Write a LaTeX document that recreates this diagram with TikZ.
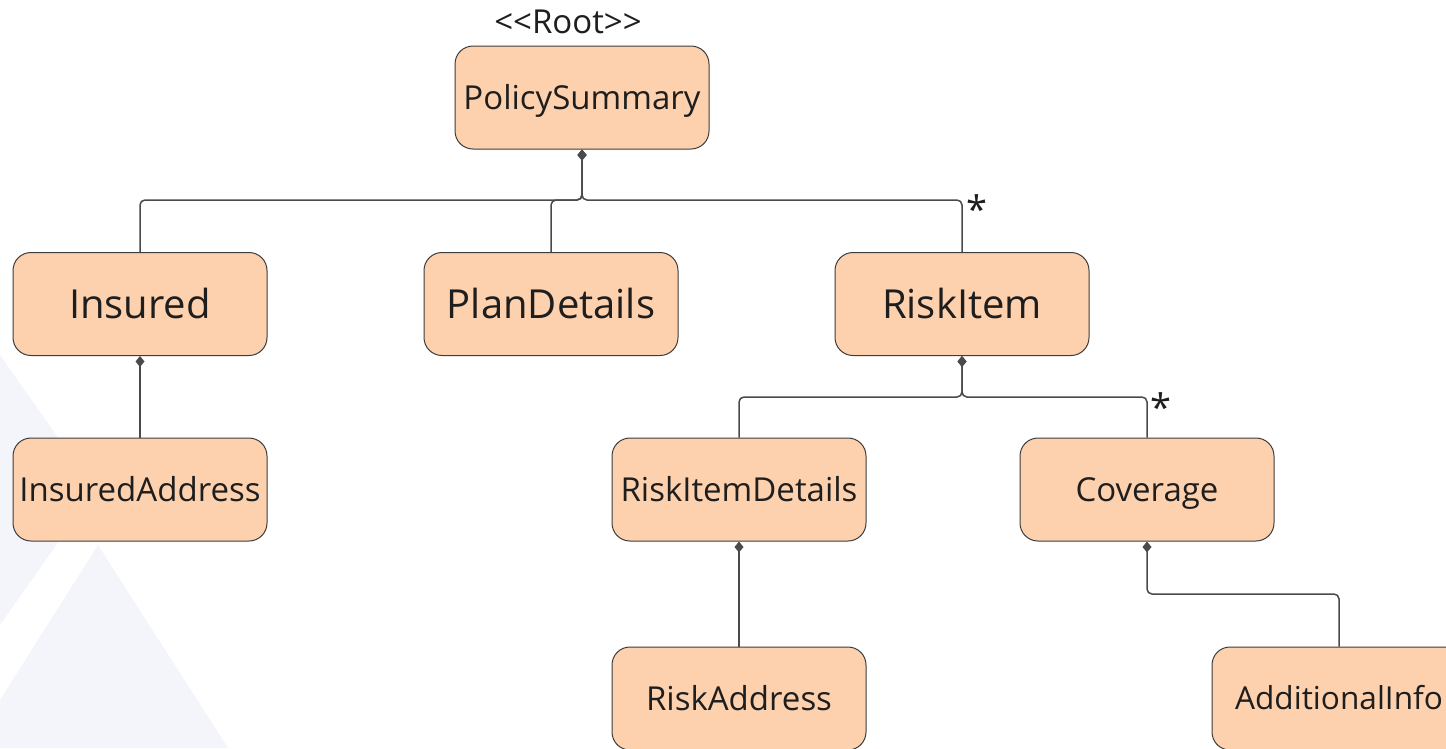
\documentclass[tikz,border=0pt]{standalone}
\usepackage{fontspec}
\setmainfont{Open Sans}
\usetikzlibrary{arrows.meta}
\definecolor{boxfill}{HTML}{FDD1AE}
\definecolor{boxline}{HTML}{3C3C3C}
\definecolor{wire}{HTML}{4A4A4A}
\definecolor{ink}{HTML}{1E1E1E}
\definecolor{wmark}{HTML}{F4F5FB}
\begin{document}
\begin{tikzpicture}[x=1pt,y=-1pt,
  classbox/.style={draw=boxline, line width=1pt, fill=boxfill, rounded corners=18pt,
    minimum width=254pt, minimum height=103pt, inner sep=0pt, text=ink,
    font=\fontsize{33}{40}\selectfont, text height=23.6pt, text depth=0pt},
  bigbox/.style={classbox, font=\fontsize{40}{48}\selectfont, text height=28.6pt},
  compose/.style={draw=wire, line width=1.5pt, rounded corners=5pt,
    {Diamond[length=11pt,width=9pt]}-},
  mult/.style={text=ink, inner sep=0pt, anchor=base, font=\fontsize{38}{44}\selectfont},
  stereo/.style={text=ink, inner sep=0pt, anchor=base, font=\fontsize{33}{40}\selectfont}
]
\useasboundingbox (0,0) rectangle (1446,748);

% faint background triangles
\fill[wmark] (0,355) -- (95,490) -- (0,625) -- cycle;
\fill[wmark] (98,545) -- (228,748) -- (0,748) -- (0,700) -- cycle;

% classes
\node[classbox] (ps)   at (582,97.5)  {PolicySummary};
\node[stereo]   (root) at (568,33)    {<\kern0pt<Root>\kern0pt>};
\node[bigbox]   (ins)  at (140,304)   {Insured};
\node[bigbox]   (plan) at (551,304)   {PlanDetails};
\node[bigbox]   (risk) at (962,304)   {RiskItem};
\node[classbox] (insa) at (140,489.5) {InsuredAddress};
\node[classbox] (rid)  at (739,489.5) {RiskItemDetails};
\node[classbox] (cov)  at (1147,489.5){Coverage};
\node[classbox] (radr) at (739,698.5) {RiskAddress};
\node[classbox, font=\fontsize{31.6}{38}\selectfont, text height=22.6pt]
                (addi) at (1339,698.5){AdditionalInfo};

% bus points
\coordinate (busA) at (582,200);
\coordinate (busB) at (962,397);
\coordinate (busC) at (1147,594);

% composition connectors
\draw[compose] (ps.south) -- (busA) -| (ins.north);
\draw[compose] (ps.south) -- (busA) -| (plan.north);
\draw[compose] (ps.south) -- (busA) -| (risk.north);
\draw[compose] (ins.south) -- (insa.north);
\draw[compose] (risk.south) -- (busB) -| (rid.north);
\draw[compose] (risk.south) -- (busB) -| (cov.north);
\draw[compose] (rid.south) -- (radr.north);
\draw[compose] (cov.south) -- (busC) -| (addi.north);

% multiplicities
\node[mult] (m1) at (977,223) {*};
\node[mult] (m2) at (1161,421) {*};
\end{tikzpicture}
\end{document}
